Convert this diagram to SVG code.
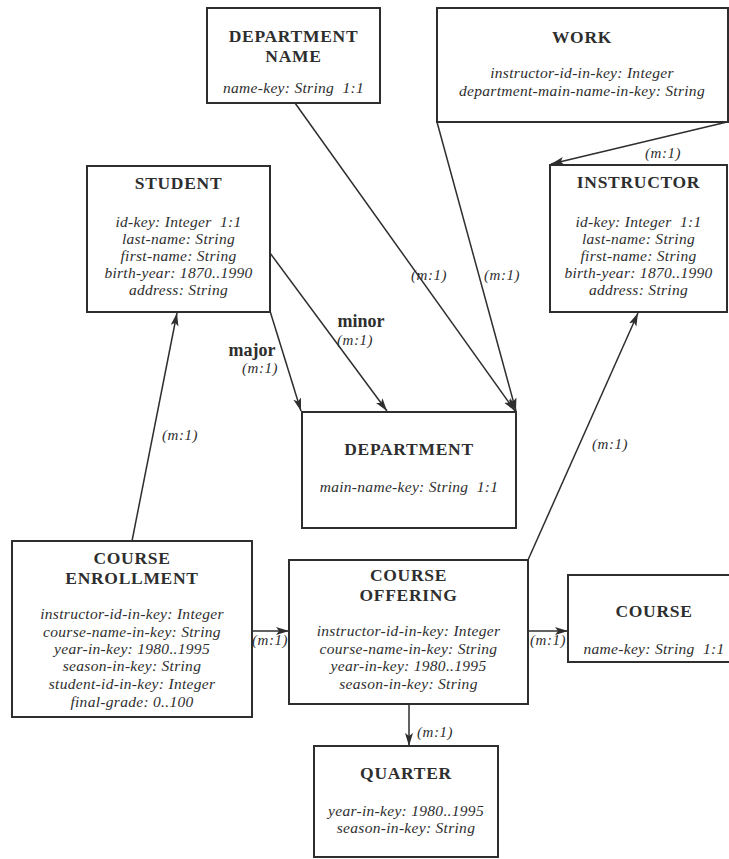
<svg xmlns="http://www.w3.org/2000/svg" width="729" height="859" viewBox="0 0 729 859">
  <style>
    .box { fill: #ffffff; stroke: #2e2e2e; stroke-width: 2; }
    .title { font-family: "Liberation Serif", "Times New Roman", serif; font-weight: bold; font-size: 17.5px; letter-spacing: 0.7px; fill: #2e2e2e; text-anchor: middle; }
    .attr { font-family: "Liberation Serif", "Times New Roman", serif; font-style: italic; font-size: 15.5px; letter-spacing: 0.3px; fill: #2e2e2e; text-anchor: middle; }
    .role { font-family: "Liberation Serif", "Times New Roman", serif; font-weight: bold; font-size: 18px; fill: #2e2e2e; text-anchor: middle; }
    .card { font-family: "Liberation Serif", "Times New Roman", serif; font-style: italic; font-size: 15px; letter-spacing: 0.5px; fill: #2e2e2e; text-anchor: middle; }
    .link { stroke: #2e2e2e; stroke-width: 1.5; fill: none; marker-end: url(#arrow); }
  </style>
  <defs>
    <marker id="arrow" markerUnits="userSpaceOnUse" markerWidth="14" markerHeight="10" refX="13" refY="4" orient="auto">
      <path d="M0,0 L13,4 L0,8 L3,4 z" fill="#2e2e2e"/>
    </marker>
  </defs>
  <rect width="729" height="859" fill="#ffffff"/>

  <!-- relationships -->
  <g id="connectors">
    <line class="link" x1="132" y1="541" x2="177" y2="313"/>
    <line class="link" x1="270" y1="311" x2="301" y2="411"/>
    <line class="link" x1="270" y1="253" x2="387" y2="411"/>
    <line class="link" x1="295" y1="103" x2="515" y2="411"/>
    <line class="link" x1="437" y1="122" x2="516" y2="411"/>
    <line class="link" x1="727" y1="122" x2="551" y2="164"/>
    <line class="link" x1="528" y1="560" x2="638" y2="313"/>
    <line class="link" x1="252" y1="631" x2="289" y2="631"/>
    <line class="link" x1="528" y1="631" x2="568" y2="631"/>
    <line class="link" x1="409" y1="704" x2="409" y2="746"/>

    <text class="card" x="180" y="440">(m:1)</text>
    <text class="role" x="252" y="356">major</text>
    <text class="card" x="260" y="373">(m:1)</text>
    <text class="role" x="361" y="327">minor</text>
    <text class="card" x="355" y="345">(m:1)</text>
    <text class="card" x="429" y="280">(m:1)</text>
    <text class="card" x="502" y="280">(m:1)</text>
    <text class="card" x="663" y="158">(m:1)</text>
    <text class="card" x="610" y="449">(m:1)</text>
    <text class="card" x="270" y="645">(m:1)</text>
    <text class="card" x="548" y="645">(m:1)</text>
    <text class="card" x="435" y="737">(m:1)</text>
  </g>

  <g id="department-name">
    <rect class="box" x="207" y="8" width="173" height="95"/>
    <text class="title" x="293.5" y="42">DEPARTMENT</text>
    <text class="title" x="293.5" y="62">NAME</text>
    <text class="attr" x="293.5" y="93">name-key: String&#160; 1:1</text>
  </g>

  <g id="work">
    <rect class="box" x="437" y="8" width="291" height="114"/>
    <text class="title" x="582" y="43">WORK</text>
    <text class="attr" x="582" y="78">instructor-id-in-key: Integer</text>
    <text class="attr" x="582" y="96">department-main-name-in-key: String</text>
  </g>

  <g id="student">
    <rect class="box" x="87" y="166" width="183" height="146"/>
    <text class="title" x="178.5" y="189">STUDENT</text>
    <text class="attr" x="178.5" y="227">id-key: Integer&#160; 1:1</text>
    <text class="attr" x="178.5" y="244">last-name: String</text>
    <text class="attr" x="178.5" y="261">first-name: String</text>
    <text class="attr" x="178.5" y="278">birth-year: 1870..1990</text>
    <text class="attr" x="178.5" y="295">address: String</text>
  </g>

  <g id="instructor">
    <rect class="box" x="550" y="165" width="177" height="147"/>
    <text class="title" x="638.5" y="188">INSTRUCTOR</text>
    <text class="attr" x="638.5" y="227">id-key: Integer&#160; 1:1</text>
    <text class="attr" x="638.5" y="244">last-name: String</text>
    <text class="attr" x="638.5" y="261">first-name: String</text>
    <text class="attr" x="638.5" y="278">birth-year: 1870..1990</text>
    <text class="attr" x="638.5" y="295">address: String</text>
  </g>

  <g id="department">
    <rect class="box" x="302" y="412" width="214" height="116"/>
    <text class="title" x="409" y="455">DEPARTMENT</text>
    <text class="attr" x="409" y="492">main-name-key: String&#160; 1:1</text>
  </g>

  <g id="course-enrollment">
    <rect class="box" x="12" y="541" width="240" height="176"/>
    <text class="title" x="132" y="564">COURSE</text>
    <text class="title" x="132" y="584">ENROLLMENT</text>
    <text class="attr" x="132" y="619">instructor-id-in-key: Integer</text>
    <text class="attr" x="132" y="637">course-name-in-key: String</text>
    <text class="attr" x="132" y="654">year-in-key: 1980..1995</text>
    <text class="attr" x="132" y="671">season-in-key: String</text>
    <text class="attr" x="132" y="689">student-id-in-key: Integer</text>
    <text class="attr" x="132" y="707">final-grade: 0..100</text>
  </g>

  <g id="course-offering">
    <rect class="box" x="289" y="560" width="239" height="144"/>
    <text class="title" x="408.5" y="581">COURSE</text>
    <text class="title" x="408.5" y="601">OFFERING</text>
    <text class="attr" x="408.5" y="636">instructor-id-in-key: Integer</text>
    <text class="attr" x="408.5" y="654">course-name-in-key: String</text>
    <text class="attr" x="408.5" y="671">year-in-key: 1980..1995</text>
    <text class="attr" x="408.5" y="689">season-in-key: String</text>
  </g>

  <g id="course">
    <rect class="box" x="568" y="575" width="172" height="87"/>
    <text class="title" x="654" y="617">COURSE</text>
    <text class="attr" x="654" y="654">name-key: String&#160; 1:1</text>
  </g>

  <g id="quarter">
    <rect class="box" x="314" y="746" width="184" height="111"/>
    <text class="title" x="406" y="779">QUARTER</text>
    <text class="attr" x="406" y="816">year-in-key: 1980..1995</text>
    <text class="attr" x="406" y="833">season-in-key: String</text>
  </g>
</svg>
